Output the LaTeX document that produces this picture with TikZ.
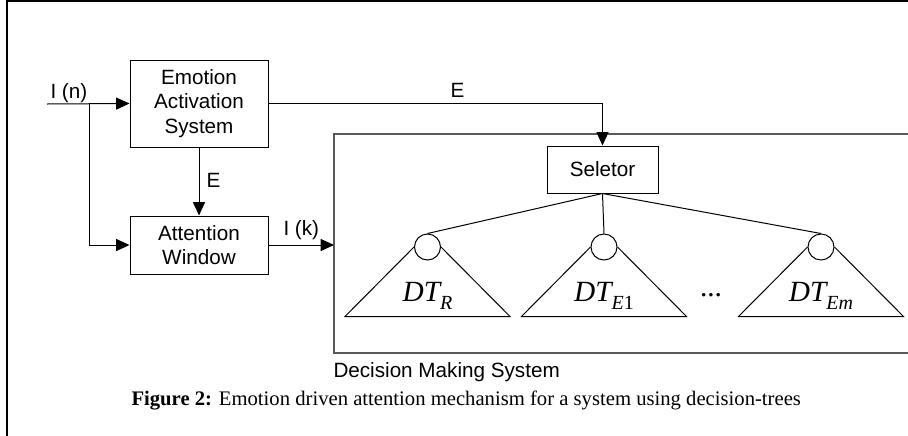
\documentclass[tikz,border=0pt]{standalone}
\usepackage{fontspec}
\setmainfont{Liberation Serif}
\newfontfamily\arialf{Liberation Sans}
\usetikzlibrary{arrows.meta}
\newcommand\dtl[1]{{\rmfamily\fontsize{22}{22}\selectfont\itshape DT}\raisebox{-6pt}{\rmfamily\fontsize{15}{15}\selectfont #1}}
\begin{document}
\begin{tikzpicture}[x=0.75pt,y=-0.75pt,line width=0.75pt,
	font=\arialf\fontsize{15.5}{18.5}\selectfont,
	>={Triangle[length=10pt,width=9pt]},
	block/.style={draw,rectangle,align=center,inner sep=0pt},
	leaf/.style={draw,circle,minimum size=19.5pt,inner sep=0pt},
	dms/.style={draw=black!65,line width=1pt}]
	\useasboundingbox (0,0) rectangle (908,436);
	\draw[line width=1.5pt] (7,436)--(7,1.3)--(908,1.3);
	\node[block,minimum width=103.5pt,minimum height=65.25pt] (eas) at (199,103.5) {Emotion\\Activation\\System};
	\node[block,minimum width=103.5pt,minimum height=43.5pt] (aw) at (199,245) {Attention\\Window};
	\draw[dms] (908,134)-|(334,353)--(908,353);
	\coordinate (dmsin) at (334,245);
	\node[block,minimum width=83.25pt,minimum height=35.25pt] (sel) at (602.5,169.5) {Seletor};
	\coordinate (in) at (47,104);
	\coordinate (br) at (89,104);
	\draw[->] (in)--(eas.west);
	\draw[->] (br)|-(aw.west);
	\draw[->] (eas.south)--(aw.north);
	\draw[->] (eas.east)-|(sel.north);
	\draw[->] (aw.east)--(dmsin);
	\node[anchor=base west,inner sep=0pt] at (50,98) {I (n)};
	\node[anchor=base west,inner sep=0pt] at (206,187) {E};
	\node[anchor=base west,inner sep=0pt] at (450,97) {E};
	\node[anchor=base west,inner sep=0pt] at (283,235) {I (k)};
	\foreach \n/\x/\lab in {dtr/427.5/{\itshape R},dte/604/{{\itshape E}1},dtm/821/{\itshape Em}}{
		\node[leaf] (\n) at (\x,247) {};
		\draw (\n.west)--({\x-82.5},316.5)--({\x+82.5},316.5)--(\n.east);
		\draw (sel.south)--(\n.north);
		\node[anchor=base,inner sep=0pt] (\n lab) at (\x,301.5) {\dtl{\lab}};
	}
	\node[anchor=base,inner sep=0pt,font=\rmfamily\fontsize{22}{22}\selectfont] (dots) at (711,296) {...};
	\node[anchor=base west,inner sep=0pt] (dmslab) at (333,377) {Decision Making System};
	\node[anchor=base west,inner sep=0pt,font=\rmfamily\fontsize{15.5}{18.5}\selectfont] (cap) at (131,405) {\textbf{Figure 2:} Emotion driven attention mechanism for a system using decision-trees};
\end{tikzpicture}
\end{document}
